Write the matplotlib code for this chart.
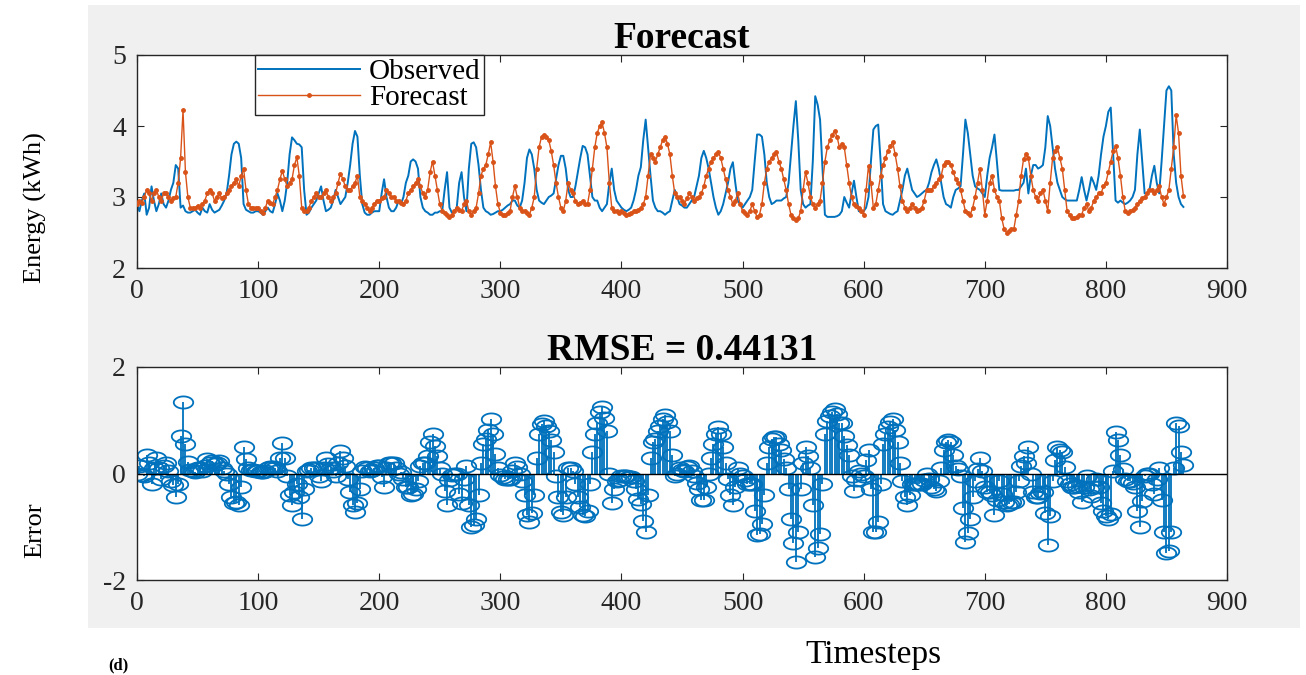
import numpy as np
import matplotlib
matplotlib.use("Agg")
import matplotlib.pyplot as plt
from matplotlib.path import Path
from matplotlib.patches import Rectangle

# ---------------- data ----------------
# values at t = 0, 4, 8, ..., 864
timesteps = list(range(0, 868, 4))
observed = [
    2.90, 2.95, 2.75, 3.15, 2.80, 3.05, 2.85, 3.10, 3.45, 2.85, 2.80, 2.78, 2.82, 2.75, 2.80, 2.90, 2.78, 2.82, 2.95, 3.30, 3.75, 3.75, 2.90, 2.80, 2.78,
    2.80, 2.75, 2.85, 2.78, 3.05, 2.80, 3.20, 3.84, 3.75, 3.70, 2.75, 2.85, 2.95, 3.15, 2.80, 2.85, 3.10, 2.90, 3.00, 3.45, 3.93, 3.30, 2.78, 2.75, 2.80,
    2.80, 3.25, 2.85, 2.80, 2.95, 3.00, 3.30, 3.53, 3.40, 2.85, 2.78, 2.75, 2.78, 2.80, 3.35, 2.78, 2.85, 3.35, 2.80, 3.75, 3.70, 3.10, 2.80, 2.75, 2.78,
    2.80, 2.85, 2.90, 2.95, 2.85, 3.20, 3.67, 3.40, 2.95, 2.90, 3.00, 3.05, 3.45, 3.58, 3.10, 3.00, 3.35, 3.72, 3.60, 3.00, 2.95, 2.80, 2.90, 3.40, 2.95,
    2.85, 2.80, 2.85, 3.10, 3.42, 4.09, 3.30, 2.85, 2.80, 2.75, 2.80, 3.10, 2.90, 2.85, 2.90, 3.00, 3.30, 3.65, 3.40, 3.00, 2.75, 2.90, 3.20, 3.49, 2.95,
    2.85, 2.95, 3.10, 3.88, 3.85, 3.20, 2.90, 2.95, 2.95, 3.00, 3.60, 4.35, 3.10, 2.85, 2.90, 4.42, 4.09, 2.75, 2.72, 2.72, 2.75, 3.00, 2.85, 3.23, 2.80,
    2.80, 3.00, 3.95, 4.02, 2.90, 2.78, 2.75, 2.80, 3.10, 3.40, 3.10, 3.00, 3.05, 3.10, 3.35, 3.53, 3.20, 2.90, 2.85, 3.10, 3.15, 4.09, 3.60, 3.15, 3.10,
    3.00, 3.55, 3.88, 3.10, 3.09, 3.09, 3.09, 3.10, 3.20, 3.05, 3.45, 3.40, 3.45, 4.14, 3.70, 3.20, 3.00, 2.95, 2.95, 2.95, 3.28, 2.95, 3.28, 3.10, 3.60,
    4.00, 4.26, 2.95, 2.95, 2.90, 2.95, 3.10, 3.95, 3.05, 3.10, 3.44, 3.05, 4.00, 4.56, 3.60, 3.00, 2.86,
]
forecast = [
    2.90, 2.92, 3.10, 2.95, 3.10, 2.95, 3.05, 2.95, 3.00, 3.55, 3.35, 2.85, 2.85, 2.85, 2.95, 3.10, 2.95, 3.05, 3.00, 3.10, 3.20, 3.15, 3.40, 2.90, 2.85,
    2.85, 2.78, 2.95, 2.90, 3.10, 3.37, 3.15, 3.25, 3.56, 2.85, 2.80, 2.95, 3.05, 3.00, 3.10, 2.95, 3.05, 3.33, 3.15, 3.10, 3.20, 3.00, 2.90, 2.80, 2.90,
    2.95, 3.00, 3.05, 3.00, 2.95, 2.90, 3.05, 3.15, 3.25, 3.05, 3.10, 3.50, 3.10, 2.80, 2.75, 2.75, 2.85, 2.80, 2.95, 2.75, 2.85, 3.30, 3.45, 3.77, 3.15,
    2.78, 2.75, 2.80, 3.15, 2.85, 2.80, 2.75, 3.00, 3.70, 3.88, 3.80, 3.45, 3.00, 2.80, 3.20, 3.05, 2.90, 2.95, 2.90, 3.40, 3.90, 4.05, 3.70, 2.85, 2.80,
    2.80, 2.75, 2.78, 2.80, 2.85, 3.00, 3.60, 3.50, 3.70, 3.85, 3.60, 3.05, 3.00, 2.90, 3.05, 2.95, 3.00, 3.15, 3.40, 3.55, 3.63, 3.40, 3.10, 2.90, 3.05,
    2.80, 2.75, 2.90, 2.72, 2.90, 3.40, 3.55, 3.63, 3.40, 3.10, 2.75, 2.68, 2.80, 3.35, 3.00, 2.85, 2.95, 3.50, 3.80, 3.93, 3.70, 3.70, 3.20, 2.90, 2.85,
    2.75, 3.44, 2.85, 3.10, 3.45, 3.65, 3.77, 3.40, 2.95, 2.80, 2.90, 2.80, 2.85, 3.10, 3.10, 3.20, 3.30, 3.50, 3.45, 3.25, 3.10, 2.80, 2.75, 3.00, 3.40,
    2.75, 3.20, 3.10, 2.95, 2.55, 2.52, 2.55, 2.95, 3.53, 3.55, 3.10, 2.95, 3.10, 2.80, 3.55, 3.70, 3.40, 2.80, 2.70, 2.72, 2.75, 2.90, 2.85, 3.00, 3.05,
    3.20, 3.50, 3.72, 3.30, 2.80, 2.80, 2.85, 2.95, 3.00, 3.10, 3.05, 3.15, 2.90, 3.10, 3.70, 3.90, 3.02,
]

# values at the in-between timesteps t = 2, 6, 10, ..., 862
timesteps_mid = list(range(2, 864, 4))
observed_mid = [
    2.80, 3.05, 2.85, 2.95, 2.90, 2.90, 2.95, 3.20, 3.40, 2.88, 2.78, 2.80, 2.78, 2.85, 2.78, 2.82, 2.80, 2.88, 3.05, 3.60, 3.78, 3.55, 2.82, 2.78, 2.80,
    2.78, 2.80, 2.80, 2.90, 2.95, 2.95, 3.60, 3.80, 3.74, 3.10, 2.78, 2.90, 3.05, 2.95, 2.82, 2.95, 3.00, 2.95, 3.20, 3.75, 3.85, 2.90, 2.75, 2.78, 2.80,
    3.05, 3.00, 2.80, 2.85, 2.90, 3.20, 3.50, 3.50, 3.00, 2.80, 2.75, 2.78, 2.80, 3.10, 2.85, 2.80, 3.20, 3.00, 3.40, 3.77, 3.45, 2.85, 2.78, 2.76, 2.80,
    2.82, 2.88, 2.95, 2.88, 2.95, 3.55, 3.60, 3.10, 2.92, 2.95, 3.02, 3.25, 3.58, 3.40, 3.00, 3.15, 3.55, 3.70, 3.30, 2.95, 2.85, 2.85, 3.20, 3.10, 2.90,
    2.82, 2.82, 2.95, 3.30, 3.80, 3.70, 2.95, 2.80, 2.78, 2.78, 2.95, 3.00, 2.88, 2.85, 2.95, 3.15, 3.55, 3.55, 3.20, 2.85, 2.80, 3.05, 3.40, 3.20, 2.90,
    2.90, 3.00, 3.50, 3.88, 3.60, 3.00, 2.92, 2.95, 2.98, 3.20, 4.00, 3.80, 2.90, 2.88, 3.50, 4.30, 3.40, 2.72, 2.72, 2.73, 2.80, 2.92, 3.05, 3.00, 2.80,
    2.85, 3.50, 4.00, 3.50, 2.80, 2.76, 2.78, 2.95, 3.30, 3.25, 3.05, 3.02, 3.08, 3.20, 3.45, 3.40, 3.00, 2.88, 3.00, 3.12, 3.60, 3.90, 3.30, 3.12, 3.05,
    3.30, 3.70, 3.50, 3.09, 3.09, 3.09, 3.10, 3.15, 3.40, 3.30, 3.45, 3.42, 3.70, 4.00, 3.40, 3.10, 2.97, 2.95, 2.95, 3.10, 3.10, 3.10, 3.20, 3.30, 3.85,
    4.20, 3.60, 2.92, 2.92, 2.92, 3.00, 3.60, 3.50, 3.05, 3.30, 3.20, 3.50, 4.50, 4.50, 3.20, 2.90,
]
forecast_mid = [
    2.95, 3.00, 3.05, 3.05, 3.00, 3.05, 3.00, 2.98, 3.20, 4.22, 3.00, 2.85, 2.88, 2.90, 3.05, 3.05, 3.00, 2.98, 3.05, 3.15, 3.25, 3.30, 3.10, 2.85, 2.85,
    2.80, 2.85, 2.92, 3.00, 3.25, 3.25, 3.20, 3.45, 3.30, 2.80, 2.85, 3.00, 3.00, 3.05, 3.00, 3.00, 3.20, 3.25, 3.10, 3.15, 3.30, 2.95, 2.85, 2.85, 2.95,
    2.98, 3.10, 3.00, 2.95, 2.92, 2.95, 3.10, 3.20, 3.15, 3.00, 3.35, 3.30, 2.90, 2.78, 2.72, 2.80, 2.82, 2.90, 2.80, 2.80, 3.05, 3.40, 3.60, 3.50, 2.90,
    2.75, 2.78, 3.00, 3.00, 2.80, 2.78, 2.85, 3.40, 3.85, 3.85, 3.65, 3.20, 2.85, 2.95, 3.10, 2.95, 2.92, 2.90, 3.10, 3.70, 4.00, 3.90, 3.20, 2.80, 2.78,
    2.78, 2.76, 2.80, 2.82, 2.90, 3.30, 3.55, 3.60, 3.80, 3.75, 3.30, 3.00, 2.95, 2.98, 3.00, 2.98, 3.05, 3.30, 3.50, 3.60, 3.55, 3.25, 3.00, 2.95, 2.90,
    2.78, 2.80, 2.80, 2.75, 3.20, 3.50, 3.60, 3.50, 3.25, 2.90, 2.70, 2.70, 3.10, 3.20, 2.90, 2.90, 3.20, 3.70, 3.88, 3.85, 3.75, 3.45, 3.00, 2.88, 2.80,
    3.10, 3.20, 2.90, 3.30, 3.55, 3.72, 3.60, 3.15, 2.85, 2.85, 2.85, 2.82, 2.95, 3.10, 3.15, 3.25, 3.45, 3.50, 3.35, 3.20, 2.95, 2.78, 2.85, 3.20, 3.10,
    2.95, 3.30, 3.00, 2.70, 2.50, 2.55, 2.75, 3.30, 3.60, 3.30, 3.00, 3.05, 2.95, 3.20, 3.65, 3.55, 3.10, 2.75, 2.70, 2.75, 2.85, 2.80, 2.95, 3.05, 3.15,
    3.35, 3.65, 3.55, 3.00, 2.78, 2.82, 2.90, 2.98, 3.05, 3.10, 3.10, 3.00, 3.00, 3.40, 4.15, 3.30,
]

title_top = "Forecast"
rmse_value = 0.44131
x_ticks = [0, 100, 200, 300, 400, 500, 600, 700, 800, 900]
y_ticks_top = [2, 3, 4, 5]
y_ticks_bottom = [-2, 0, 2]

# ---------------- style ----------------
BLUE = "#0072BD"
ORANGE = "#D95319"
plt.rcParams["font.family"] = ["Liberation Serif", "DejaVu Serif"]
plt.rcParams["axes.unicode_minus"] = False

t = np.array(timesteps + timesteps_mid)
obs = np.array(observed + observed_mid)
fc = np.array(forecast + forecast_mid)
order = np.argsort(t)
t, obs, fc = t[order], obs[order], fc[order]
err = fc - obs

W, H = 1306, 675
fig = plt.figure(figsize=(13.06, 6.75), dpi=100)
fig.patch.set_facecolor("white")
panel = Rectangle((88 / W, 1 - 628 / H), (1300 - 88) / W, (628 - 5) / H,
                  transform=fig.transFigure, facecolor="#f0f0f0", edgecolor="none", zorder=-10)
fig.add_artist(panel)

def ax_rect(l, t_, r, b):
    return [l / W, 1 - b / H, (r - l) / W, (b - t_) / H]

ax1 = fig.add_axes(ax_rect(137, 55, 1227, 268))
ax2 = fig.add_axes(ax_rect(137, 367, 1227, 580))

for ax in (ax1, ax2):
    ax.set_zorder(5)
    ax.set_facecolor("white")
    for s in ax.spines.values():
        s.set_linewidth(1.0)
        s.set_color("#262626")
    ax.tick_params(direction="in", top=True, right=True, length=5, width=0.8,
                   labelsize=20, colors="#262626", pad=8)
    ax.set_xlim(0, 900)
    ax.set_xticks(x_ticks)

# top panel
ax1.plot(t, obs, color=BLUE, lw=1.4, label="Observed", zorder=2)
ax1.plot(t, fc, color=ORANGE, lw=1.0, marker=".", ms=5, label="Forecast", zorder=3)
ax1.set_ylim(2, 5)
ax1.set_yticks(y_ticks_top)
ax1.set_title(title_top, fontsize=27, fontweight="bold", pad=5)
leg = ax1.legend(loc="upper left", bbox_to_anchor=(0.108, 1.0), borderaxespad=0,
                 fancybox=False, edgecolor="#262626", framealpha=1, fontsize=21,
                 handlelength=3.5, borderpad=0.12, labelspacing=0.0, handletextpad=0.3)
leg.get_frame().set_linewidth(1.0)

# bottom panel: stem plot of the error
theta = np.linspace(0, 2 * np.pi, 60)
ellipse = Path(np.column_stack([1.6 * np.cos(theta), np.sin(theta)]), closed=True)
ml, sl, bl = ax2.stem(t, err, linefmt="-", markerfmt="o", basefmt="-")
plt.setp(sl, color=BLUE, linewidth=1.3)
ml.set_marker(ellipse)
ml.set_markersize(14)
ml.set_markerfacecolor("none")
ml.set_markeredgecolor(BLUE)
ml.set_markeredgewidth(1.3)
bl.set_color("black")
bl.set_linewidth(1.0)
bl.set_xdata([0, 900])
ax2.set_ylim(-2, 2)
ax2.set_yticks(y_ticks_bottom)
ax2.set_title(f"RMSE = {rmse_value}", fontsize=27, fontweight="bold", pad=5)

# labels outside the panels
fig.text(35 / W, 1 - 208 / H, "Energy (kWh)", rotation=90, ha="center", va="center", fontsize=19)
fig.text(35 / W, 1 - 530 / H, "Error", rotation=90, ha="center", va="center", fontsize=19)
fig.text(873 / W, 1 - 655 / H, "Timesteps", ha="center", va="center", fontsize=24)
fig.text(118 / W, 1 - 665 / H, "(d)", ha="center", va="center", fontsize=12, fontweight="bold")

fig.savefig("out.png", dpi=100, facecolor=fig.get_facecolor())
